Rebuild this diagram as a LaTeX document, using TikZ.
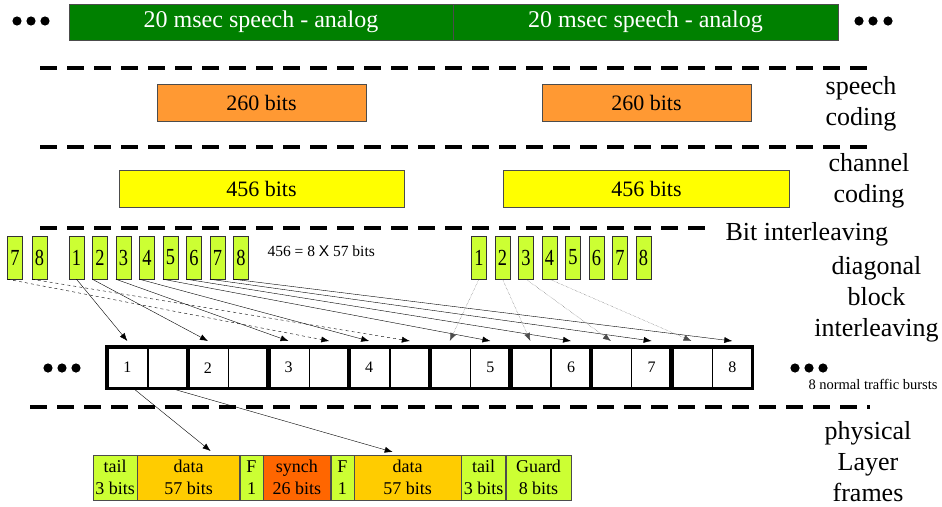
\documentclass[tikz,border=0pt]{standalone}
\usepackage{fontspec}
\setmainfont{Liberation Serif}
\newfontfamily\narrowserif[FakeStretch=0.8]{Liberation Serif}
\newfontfamily\crossfont{Liberation Sans}
\usetikzlibrary{arrows.meta}

\definecolor{speechgreen}{HTML}{008000}
\definecolor{codeorange}{HTML}{FF9933}
\definecolor{chanyellow}{HTML}{FFFF00}
\definecolor{bitlime}{HTML}{CCFF33}
\definecolor{datagold}{HTML}{FFCC00}
\definecolor{synchred}{HTML}{FF6600}

\begin{document}
\begin{tikzpicture}[x=1pt, y=-1pt]
    \tikzstyle{separator} = [line width=4pt, dash pattern=on 17pt off 10pt]
    \tikzstyle{block} = [draw=black!70, inner sep=0pt, minimum height=37pt, font=\fontsize{22}{26}\selectfont]
    \tikzstyle{speech} = [block, fill=speechgreen, text=white, minimum width=384.5pt, minimum height=36pt, font=\fontsize{24}{28}\selectfont]
    \tikzstyle{bit} = [draw=black!80, fill=bitlime, inner sep=0pt, minimum width=15pt, minimum height=43pt, font=\narrowserif\fontsize{23}{26}\selectfont]
    \tikzstyle{half} = [draw, thin, inner sep=0pt, minimum width=40.3pt, minimum height=41pt, anchor=north west, font=\fontsize{16}{19}\selectfont]
    \tikzstyle{burst} = [line width=3.5pt]
    \tikzstyle{frm} = [draw=black!70, inner sep=0pt, minimum height=45pt, anchor=north west, align=center, font=\fontsize{18}{22}\selectfont]
    \tikzstyle{layer} = [align=center, font=\fontsize{26}{31}\selectfont]
    \tikzstyle{link} = [thin, -{Latex[length=8pt, width=6pt]}]
    \useasboundingbox (0,0) rectangle (942,506);

    % 20 msec frames
    \foreach \x in {17, 31, 45, 859, 873, 888} \fill (\x, 21) circle (4.6);
    \node[speech] (frameA) at (261, 22) {20 msec speech - analog};
    \node[speech] (frameB) at (645.5, 22) {20 msec speech - analog};
    \draw[separator] (40, 68) -- (870, 68);

    % speech coding
    \node[block, fill=codeorange, minimum width=209pt] (codeA) at (261.5, 102.5) {260 bits};
    \node[block, fill=codeorange, minimum width=209pt] (codeB) at (646.5, 102.5) {260 bits};
    \node[layer] (speechlbl) at (861, 103.5) {speech\\coding};
    \draw[separator] (40, 147) -- (870, 147);

    % channel coding
    \node[block, fill=chanyellow, minimum width=285pt] (chanA) at (261.5, 188.5) {456 bits};
    \node[block, fill=chanyellow, minimum width=286pt] (chanB) at (646.5, 188.5) {456 bits};
    \node[layer] (chanlbl) at (869, 180.5) {channel\\coding};
    \draw[separator] (40, 228) -- (713, 228);

    % bit interleaving
    \node[layer, anchor=west] (interlbl) at (722, 234) {Bit interleaving};
    \node[layer] (diaglbl) at (876.5, 299) {diagonal\\block\\interleaving};
    \node[bit] (prev7) at (15, 257.5) {7};
    \node[bit] (prev8) at (39.5, 257.5) {8};
    \foreach \i in {1,...,8} {
        \node[bit] (bitA\i) at (76.5 + 23.5*\i - 23.5, 257.5) {\i};
        \node[bit] (bitB\i) at (479 + 23.5*\i - 23.5, 257.5) {\i};
    }
    \node[anchor=west, font=\fontsize{15.5}{18}\selectfont] (sizelbl) at (264, 251) {456 = 8 {\crossfont X} 57 bits};

    % normal bursts
    \foreach \x in {48, 62, 76, 795, 809, 823} \fill (\x, 368) circle (4.6);
    \foreach \i in {1,...,8} {
        \node[half] (bl\i) at (107 + 80.6*\i - 80.6, 347) {\ifnum\i<5 \i\fi};
        \node[half] (br\i) at (bl\i.north east) {\ifnum\i>4 \i\fi};
        \draw[burst] (bl\i.north west) rectangle (br\i.south east);
    }
    \node[font=\fontsize{14.5}{17}\selectfont] (burstlbl) at (873, 384) {8 normal traffic bursts};

    % interleaving connectors
    \draw[link] (bitA1.south) -- ([yshift=6pt]bl1.north);
    \foreach \i in {2, 3, 4}
        \draw[link] (bitA\i.south west) -- ([yshift=6pt]bl\i.north);
    \foreach \i in {5, 6, 7, 8}
        \draw[link] (bitA\i.south west) -- ([yshift=6pt]br\i.north);
    \draw[link, dashed] (prev7.south west) -- ([yshift=6pt]br3.north);
    \draw[link, dashed] (prev8.south west) -- ([yshift=6pt]br4.north);
    \foreach \i/\j in {1/5, 2/6, 3/7, 4/8}
        \draw[link, densely dotted, black!70] (bitB\i.south) -- ([yshift=6pt]bl\j.north);
    \draw[separator] (30, 407) -- (870, 407);

    % physical layer
    \node[frm, fill=bitlime, minimum width=44pt] (tailA) at (93, 455) {tail\\3 bits};
    \node[frm, fill=datagold, minimum width=102pt] (dataA) at (tailA.north east) {data\\57 bits};
    \node[frm, fill=bitlime, minimum width=23pt] (flagA) at (dataA.north east) {F\\1};
    \node[frm, fill=synchred, minimum width=67pt] (synch) at (flagA.north east) {synch\\26 bits};
    \node[frm, fill=bitlime, minimum width=23pt] (flagB) at (synch.north east) {F\\1};
    \node[frm, fill=datagold, minimum width=107pt] (dataB) at (flagB.north east) {data\\57 bits};
    \node[frm, fill=bitlime, minimum width=44pt] (tailB) at (dataB.north east) {tail\\3 bits};
    \node[frm, fill=bitlime, minimum width=65pt] (guard) at (tailB.north east) {Guard\\8 bits};
    \node[layer] (physlbl) at (868, 462) {physical\\Layer\\frames};
    \draw[link] ([xshift=6pt]bl1.south) -- ([xshift=22pt, yshift=4pt]dataA.north);
    \draw[link] ([xshift=3pt]br1.south) -- ([xshift=-15pt, yshift=3pt]dataB.north);
\end{tikzpicture}
\end{document}
